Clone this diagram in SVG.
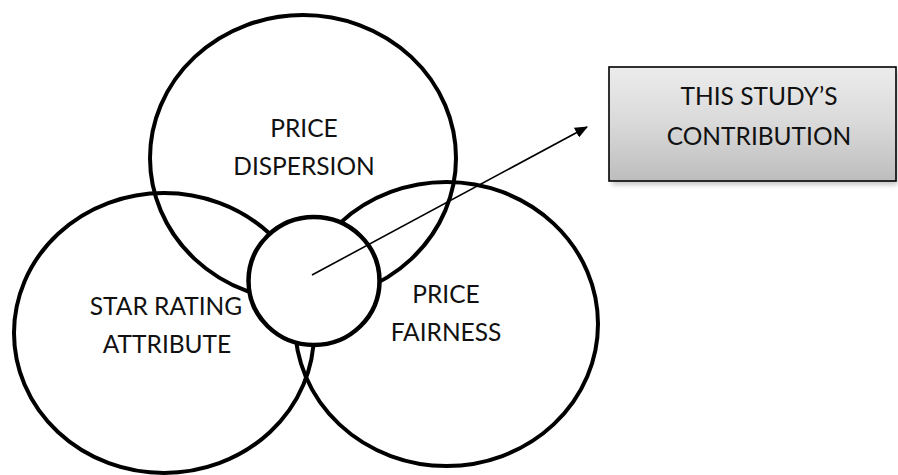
<svg xmlns="http://www.w3.org/2000/svg" width="898" height="475" viewBox="0 0 898 475">
  <defs>
    <linearGradient id="boxFill" x1="0" y1="0" x2="0" y2="1">
      <stop offset="0" stop-color="#ececec"/>
      <stop offset="0.5" stop-color="#d9d9d9"/>
      <stop offset="1" stop-color="#bdbdbd"/>
    </linearGradient>
    <filter id="softShadow" x="-10%" y="-20%" width="120%" height="150%">
      <feGaussianBlur stdDeviation="2.5"/>
    </filter>
    <marker id="arrowHead" viewBox="0 0 10 10" refX="9" refY="5" markerWidth="8" markerHeight="8" markerUnits="userSpaceOnUse" orient="auto">
      <path d="M0,0 L10,5 L0,10 Z" fill="#000"/>
    </marker>
    <marker id="arrowHeadBig" viewBox="0 0 12 10" refX="11" refY="5" markerWidth="13" markerHeight="11" markerUnits="userSpaceOnUse" orient="auto">
      <path d="M0,0 L12,5 L0,10 Z" fill="#000"/>
    </marker>
  </defs>
  <style>
    .ring { fill: none; stroke: #000; stroke-width: 4; }
    .core { fill: #fff; stroke: #000; stroke-width: 4.5; }
    .label { font-family: Lato, "Open Sans", "Liberation Sans", sans-serif; font-size: 24.5px; fill: #111; text-anchor: middle; }
    .link { stroke: #000; stroke-width: 1.6; fill: none; }
  </style>
  <rect width="898" height="475" fill="#fff"/>

  <g id="price-dispersion">
    <ellipse class="ring" cx="303" cy="158" rx="153" ry="143"/>
    <text class="label" x="304" y="137">PRICE</text>
    <text class="label" x="304" y="175">DISPERSION</text>
  </g>

  <g id="star-rating-attribute">
    <ellipse class="ring" cx="164" cy="333" rx="150" ry="140"/>
    <text class="label" x="166" y="315">STAR RATING</text>
    <text class="label" x="167" y="353">ATTRIBUTE</text>
  </g>

  <g id="price-fairness">
    <ellipse class="ring" cx="446.5" cy="324" rx="151.5" ry="142"/>
    <text class="label" x="446" y="303">PRICE</text>
    <text class="label" x="446" y="341">FAIRNESS</text>
  </g>

  <g id="intersection">
    <ellipse class="core" cx="314" cy="281" rx="65.5" ry="64"/>
  </g>

  <g id="contribution">
    <rect x="612" y="71" width="286" height="114" fill="#9a9a9a" opacity="0.55" filter="url(#softShadow)"/>
    <rect x="609" y="67" width="287" height="114" fill="url(#boxFill)" stroke="#000" stroke-width="1.6"/>
    <text class="label" x="759" y="105">THIS STUDY’S</text>
    <text class="label" x="759" y="145">CONTRIBUTION</text>
  </g>

  <g id="connectors">
    <line class="link" x1="312" y1="275" x2="587" y2="127" marker-end="url(#arrowHeadBig)"/>
  </g>
</svg>
